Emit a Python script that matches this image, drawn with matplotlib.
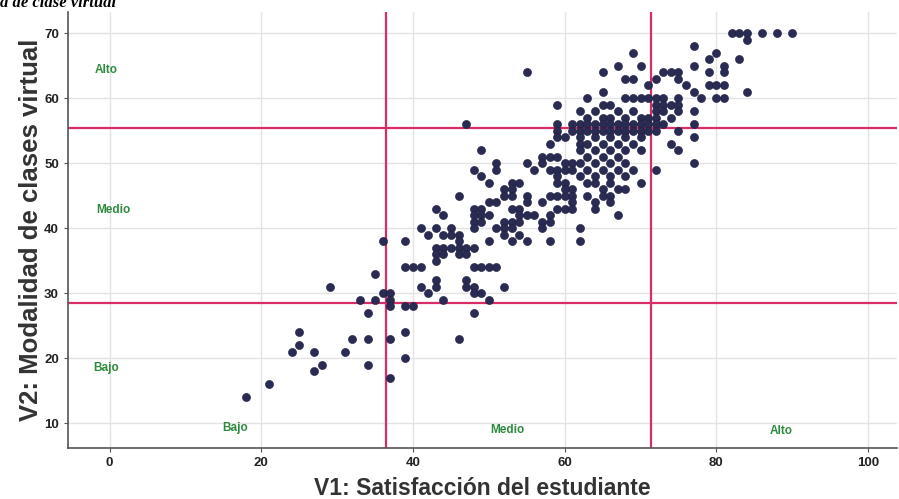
import matplotlib
matplotlib.use("Agg")
import matplotlib.pyplot as plt

# puntos (V1, V2), agrupados por valor de V2
filas = {
    70: [82, 83, 84, 86, 88, 90],
    69: [84],
    68: [77],
    67: [69, 80],
    66: [79, 83],
    65: [67, 70, 77, 81],
    64: [55, 65, 73, 74, 75, 79, 81],
    63: [68, 69, 72, 75],
    62: [71, 76, 79, 80, 81],
    61: [65, 77, 84],
    60: [63, 68, 69, 70, 71, 72, 73, 75, 78, 80, 81],
    59: [59, 65, 66, 72, 73, 74, 75],
    58: [62, 64, 67, 69, 72, 73, 75, 77],
    57: [63, 65, 66, 68, 70, 71, 72, 74],
    56: [47, 59, 61, 62, 63, 64, 65, 66, 67, 68, 69, 70, 71, 72, 73, 77],
    55: [59, 61, 62, 63, 64, 65, 66, 67, 68, 69, 70, 71, 72, 75],
    54: [59, 60, 62, 64, 66, 68, 70, 77],
    53: [58, 62, 63, 65, 67, 69, 74],
    52: [49, 62, 64, 66, 68, 70, 75],
    51: [57, 58, 59, 63, 65, 67],
    50: [51, 55, 57, 60, 61, 62, 64, 66, 68, 77],
    49: [48, 51, 56, 58, 59, 60, 61, 63, 65, 67, 69, 72],
    48: [49, 59, 62, 64, 66, 68],
    47: [50, 53, 54, 59, 60, 63, 64, 66, 70],
    46: [52, 53, 60, 61, 65, 67, 68],
    45: [46, 52, 53, 55, 58, 59, 60, 61, 63, 65, 66],
    44: [50, 51, 55, 57, 61, 64, 66],
    43: [43, 48, 49, 53, 54, 59, 60, 61, 64],
    42: [44, 48, 49, 50, 54, 55, 56, 58, 67],
    41: [48, 49, 52, 53, 54, 57, 58],
    40: [41, 43, 45, 48, 51, 52, 53, 57, 62],
    39: [42, 44, 45, 46, 52, 54],
    38: [36, 39, 46, 50, 53, 55, 58, 62],
    37: [43, 44, 45, 46, 47, 48],
    36: [43, 44, 46, 47],
    35: [43],
    34: [39, 40, 41, 48, 49, 50, 51],
    33: [35],
    32: [43, 47],
    31: [29, 41, 43, 47, 48, 52],
    30: [36, 37, 42, 48, 49],
    29: [33, 35, 37, 44, 50],
    28: [37, 39, 40],
    27: [34, 48],
    24: [25, 39],
    23: [32, 34, 37, 46],
    22: [25],
    21: [24, 27, 31],
    20: [39],
    19: [28, 34],
    18: [27],
    17: [37],
    16: [21],
    14: [18],
}
v1 = [x for y, xs in filas.items() for x in xs]
v2 = [y for y, xs in filas.items() for x in xs]

# cortes de los niveles
corte_v1 = [36.4, 71.4]
corte_v2 = [28.5, 55.5]

x_ticks = [0, 20, 40, 60, 80, 100]
y_ticks = [10, 20, 30, 40, 50, 60, 70]

# etiquetas de nivel (texto, x, y)
niveles_v2 = [("Alto", -0.5, 64.3), ("Medio", 0.5, 42.8), ("Bajo", -0.5, 18.6)]
niveles_v1 = [("Bajo", 16.5, 9.3), ("Medio", 52.5, 9.0), ("Alto", 88.5, 8.9)]

plt.rcParams['font.family'] = ['Liberation Sans', 'DejaVu Sans']

fig = plt.figure(figsize=(8.99, 4.99), dpi=100)
ax = fig.add_axes([0.0756, 0.102, 0.922, 0.874])

ax.grid(True, color='#e3e3e3', linewidth=1.0, zorder=0)
ax.set_axisbelow(True)

for c in corte_v1:
    ax.axvline(c, color='#d92d68', linewidth=1.6, zorder=2)
for c in corte_v2:
    ax.axhline(c, color='#d92d68', linewidth=1.6, zorder=2)

ax.scatter(v1, v2, s=34, color='#2a2b52', edgecolors='#1e1f40', linewidths=0.4, zorder=3)

for txt, x, y in niveles_v2 + niveles_v1:
    ax.text(x, y, txt, color='#2e8b3e', fontsize=8.5, fontweight='bold',
            ha='center', va='center', zorder=4)

ax.set_xlim(-5.5, 103.8)
ax.set_ylim(6.2, 73.3)
ax.set_xticks(x_ticks)
ax.set_yticks(y_ticks)
ax.tick_params(axis='both', labelsize=9.5, length=3, width=0.8, color='#555555', labelcolor='#222222')
for lab in ax.get_xticklabels() + ax.get_yticklabels():
    lab.set_fontweight('bold')

for s in ['top', 'right']:
    ax.spines[s].set_visible(False)
for s in ['left', 'bottom']:
    ax.spines[s].set_color('#555555')
    ax.spines[s].set_linewidth(1.2)

ax.set_xlabel('V1: Satisfacción del estudiante', fontsize=16.5, fontweight='bold', color='#333333', labelpad=6)
ax.set_ylabel('V2: Modalidad de clases virtual', fontsize=18.5, fontweight='bold', color='#333333', labelpad=1)

# titulo cortado en el borde superior, como en la figura original
fig.text(0.0, 0.994, 'a de clase virtual', fontsize=12, fontweight='bold', fontstyle='italic',
         family=['Liberation Serif', 'DejaVu Serif'], ha='left', va='center')

fig.savefig('out.png', dpi=100)
